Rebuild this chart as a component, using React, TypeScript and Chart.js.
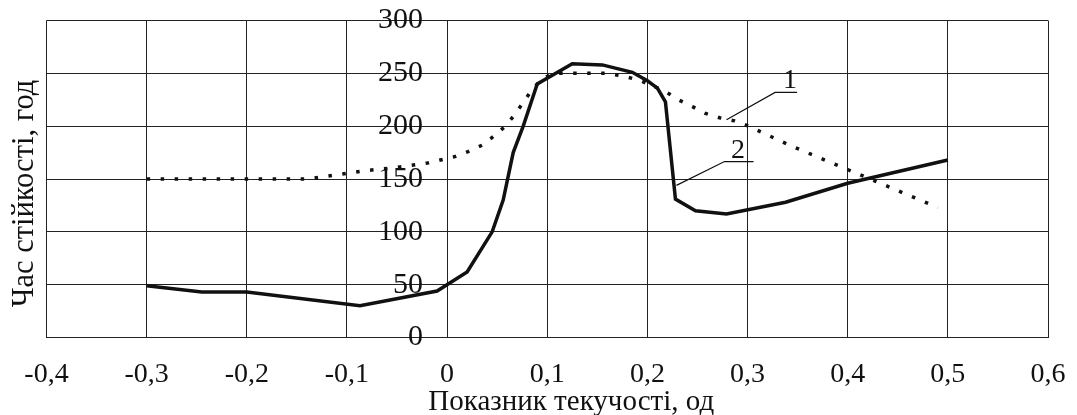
import React, { useEffect, useRef } from "react";
import { Chart, registerables } from "chart.js";

Chart.register(...registerables);

// ---- data ----
const xTickValues = [-0.4, -0.3, -0.2, -0.1, 0, 0.1, 0.2, 0.3, 0.4, 0.5, 0.6];
const xTickLabels = ["-0,4", "-0,3", "-0,2", "-0,1", "0", "0,1", "0,2", "0,3", "0,4", "0,5", "0,6"];
const yTickValues = [0, 50, 100, 150, 200, 250, 300];
const yTickLabels = ["0", "50", "100", "150", "200", "250", "300"];

// curve 1 (dotted)
const series1X = [-0.3, -0.14, -0.11, -0.08, -0.05, -0.02, 0.007, 0.021, 0.035, 0.046, 0.057, 0.066, 0.075, 0.083, 0.093, 0.105, 0.16, 0.178, 0.193, 0.206, 0.22, 0.232, 0.246, 0.258, 0.272, 0.287, 0.301, 0.342, 0.382, 0.4225, 0.49];
const series1Y = [150, 150, 154, 158, 161, 165, 171, 176, 182, 190, 199, 209, 221, 232, 243, 250, 250, 247, 243, 238, 231.5, 224.5, 218, 212, 208, 205, 200, 182, 166, 150, 123];

// curve 2 (solid)
const series2X = [-0.3, -0.245, -0.2, -0.087, -0.01, 0.02, 0.045, 0.056, 0.066, 0.076, 0.09, 0.125, 0.155, 0.185, 0.2, 0.21, 0.218, 0.228, 0.248, 0.279, 0.338, 0.4, 0.5];
const series2Y = [49, 43, 43, 30, 44, 62, 100, 130, 175, 200, 240, 259, 258, 251, 243, 236, 223, 131, 120, 117, 128, 146, 168];

// leader lines for curve labels
const leader1X = [0.279, 0.3275, 0.3495];
const leader1Y = [206, 232, 232];
const leader2X = [0.229, 0.277, 0.306];
const leader2Y = [144, 166.5, 166.5];
const curveLabels = ["1", "2"];
const curveLabelX = [0.3425, 0.2904];
const curveLabelY = [236, 170];

const xTitle = "Показник текучості, од";
const yTitle = "Час стійкості, год";

const FONT = '"Liberation Serif", "Times New Roman", serif';
const INK = "#111";

const toPoints = (xs: number[], ys: number[]) => xs.map((x, i) => ({ x, y: ys[i] }));

const textPlugin = {
  id: "textPlugin",
  afterDraw(chart: any) {
    const { ctx, chartArea, scales } = chart;
    ctx.save();
    ctx.fillStyle = INK;
    // curve labels
    ctx.font = `28px ${FONT}`;
    ctx.textAlign = "center";
    ctx.textBaseline = "alphabetic";
    curveLabels.forEach((t, i) => {
      ctx.fillText(t, scales.x.getPixelForValue(curveLabelX[i]), scales.y.getPixelForValue(curveLabelY[i]));
    });
    // axis titles
    ctx.font = `29px ${FONT}`;
    ctx.fillText(xTitle, (chartArea.left + chartArea.right) / 2 + 24, chartArea.bottom + 72.5);
    ctx.font = `30.5px ${FONT}`;
    ctx.translate(33, (chartArea.top + chartArea.bottom) / 2 + 14.5);
    ctx.rotate(-Math.PI / 2);
    ctx.fillText(yTitle, 0, 0);
    ctx.restore();
  },
};

export default function App() {
  const ref = useRef<HTMLCanvasElement | null>(null);

  useEffect(() => {
    if (!ref.current) return;
    const chart = new Chart(ref.current, {
      type: "line",
      data: {
        datasets: [
          {
            data: toPoints(series1X, series1Y),
            borderColor: INK,
            borderWidth: 3.5,
            borderDash: [3.5, 10.5],
            borderCapStyle: "butt",
            pointRadius: 0,
            tension: 0,
            fill: false,
          },
          {
            data: toPoints(series2X, series2Y),
            borderColor: INK,
            borderWidth: 3.5,
            pointRadius: 0,
            tension: 0,
            fill: false,
          },
          {
            data: toPoints(leader1X, leader1Y),
            borderColor: INK,
            borderWidth: 1.2,
            pointRadius: 0,
            tension: 0,
          },
          {
            data: toPoints(leader2X, leader2Y),
            borderColor: INK,
            borderWidth: 1.2,
            pointRadius: 0,
            tension: 0,
          },
        ],
      },
      options: {
        animation: false,
        responsive: true,
        maintainAspectRatio: false,
        parsing: true,
        layout: { padding: { left: 46.5, right: 29, top: 20.5, bottom: 27.5 } },
        plugins: { legend: { display: false }, tooltip: { enabled: false } },
        scales: {
          x: {
            type: "linear",
            min: -0.4,
            max: 0.6,
            afterBuildTicks: (scale: any) => {
              scale.ticks = xTickValues.map((v) => ({ value: v }));
            },
            afterFit: (scale: any) => {
              scale.height = 50;
            },
            grid: { color: "#222", lineWidth: 1, drawTicks: false },
            border: { display: true, color: "#222", width: 1 },
            ticks: {
              autoSkip: false,
              maxRotation: 0,
              padding: 0,
              color: INK,
              font: { family: FONT, size: 28, lineHeight: 2.66 },
              callback: (_v: any, i: number) => xTickLabels[i],
            },
          },
          y: {
            type: "linear",
            min: 0,
            max: 300,
            position: { x: -0.024 } as any,
            afterBuildTicks: (scale: any) => {
              scale.ticks = yTickValues.map((v) => ({ value: v }));
            },
            grid: { color: "#222", lineWidth: 1, drawTicks: false },
            border: { display: false },
            ticks: {
              padding: 0,
              color: INK,
              font: { family: FONT, size: 30, lineHeight: 0.8 },
              callback: (_v: any, i: number) => yTickLabels[i],
            },
          },
        },
      },
      plugins: [textPlugin],
    });
    return () => chart.destroy();
  }, []);

  return (
    <div style={{ position: "absolute", left: 0, top: 0, width: "1077px", height: "415px" }}>
      <canvas ref={ref} />
    </div>
  );
}
